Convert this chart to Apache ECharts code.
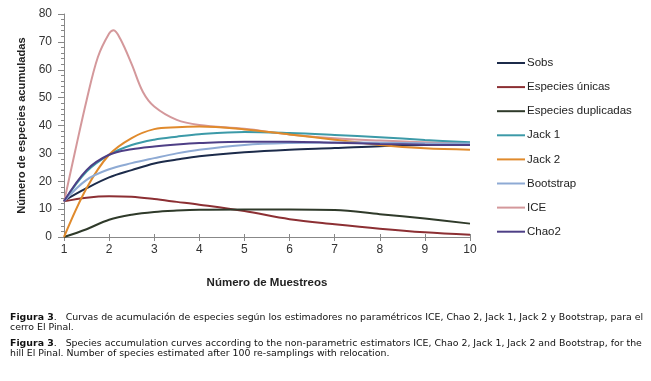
<!DOCTYPE html>
<html>
<head>
<meta charset="utf-8">
<script src="https://cdn.jsdelivr.net/npm/echarts@6/dist/echarts.min.js"></script>
<style>
html,body{margin:0;padding:0;background:#fff;}
#c{width:651px;height:381px;}
</style>
</head>
<body>
<div id="c"></div>
<script>
// ---- data ----
const xs = [1, 1.5, 2, 2.5, 3, 3.5, 4, 5, 6, 7, 8, 9, 10];
const sobs = [13, 17.5, 21.4, 24, 26.4, 27.8, 29, 30.4, 31.3, 31.9, 32.6, 33, 33.2];
const unicas = [12.8, 14.1, 14.6, 14.4, 13.6, 12.6, 11.6, 9.3, 6.4, 4.6, 3, 1.7, 0.8];
const duplicadas = [0, 2.8, 6.2, 8, 9, 9.5, 9.8, 9.9, 9.9, 9.7, 8.2, 6.6, 4.8];
const jack1 = [12.8, 23.5, 29.5, 33, 34.9, 36, 36.9, 37.7, 37.3, 36.6, 35.8, 34.8, 34];
const jack2 = [0, 17.5, 29.5, 35.5, 38.7, 39.4, 39.6, 38.6, 36.8, 34.9, 33, 31.8, 31.3];
const bootstrap = [12.8, 20.5, 24.3, 26.5, 28.3, 30, 31.3, 33, 33.7, 33.9, 33.8, 33.6, 33.5];
const chao2 = [12.8, 24, 29.5, 31.5, 32.5, 33.2, 33.7, 34.2, 34.2, 33.8, 33.4, 33.1, 33];
const iceX = [1, 1.25, 1.5, 1.75, 2, 2.1, 2.25, 2.5, 2.75, 3, 3.5, 4, 5, 6, 7, 8, 9, 10];
const ice = [12.5, 31, 49, 64.5, 73, 74.2, 71, 62, 52, 46.8, 42, 40.2, 38.8, 36.8, 35.4, 34.6, 34, 33.7];
const xTicks = [1, 2, 3, 4, 5, 6, 7, 8, 9, 10];
const names = ['Sobs', 'Especies únicas', 'Especies duplicadas', 'Jack 1', 'Jack 2', 'Bootstrap', 'ICE', 'Chao2'];
const colors = ['#1c2b4a', '#8c2f33', '#2f3a2a', '#3c9aa8', '#e08a2c', '#8eaad4', '#d4989b', '#4e3f86'];
const captionES = 'Curvas de acumulación de especies según los estimadores no paramétricos ICE, Chao 2, Jack 1, Jack 2 y Bootstrap, para el';
const captionES2 = 'cerro El Pinal.';
const captionEN = 'Species accumulation curves according to the non-parametric estimators ICE, Chao 2, Jack 1, Jack 2 and Bootstrap, for the';
const captionEN2 = 'hill El Pinal. Number of species estimated after 100 re-samplings with relocation.';

const pair = (xa, ya) => xa.map((x, i) => [x, ya[i]]);
const seriesData = [pair(xs, sobs), pair(xs, unicas), pair(xs, duplicadas), pair(xs, jack1), pair(xs, jack2), pair(xs, bootstrap), pair(iceX, ice), pair(xs, chao2)];

const narrow = "'Liberation Sans Narrow', 'Liberation Sans', Arial, sans-serif";
const capFont = "'DejaVu Sans', 'Liberation Sans', sans-serif";
const capSize = 9.4;
const capRich = { b: { fontFamily: capFont, fontSize: capSize, fontWeight: 'bold', fill: '#111' }, n: { fontFamily: capFont, fontSize: capSize, fill: '#111' } };

const chart = echarts.init(document.getElementById('c'), null, {renderer: 'canvas'});
const option = {
  animation: false,
  backgroundColor: '#fff',
  grid: { left: 64, right: 181, top: 14, bottom: 144, containLabel: false },
  legend: {
    orient: 'vertical', left: 497, top: 56, padding: 0,
    itemWidth: 28, itemHeight: 14, itemGap: 10.1,
    icon: 'path://M0,6 L28,6 L28,8 L0,8 Z',
    textStyle: { fontFamily: narrow, fontSize: 11.5, color: '#222', height: 14, lineHeight: 14, padding: [0, 0, 0, -3] },
    data: names
  },
  xAxis: [{
    type: 'value', min: 1, max: 10, interval: 1,
    name: 'Número de Muestreos', nameLocation: 'middle', nameGap: 40,
    nameTextStyle: { fontFamily: narrow, fontSize: 11.5, fontWeight: 'bold', color: '#222' },
    axisLine: { lineStyle: { color: '#888', width: 1 } },
    axisTick: { show: true, length: 4, lineStyle: { color: '#888' } },
    axisLabel: { fontFamily: narrow, fontSize: 12, color: '#333', margin: 7, customValues: xTicks },
    splitLine: { show: false }
  }, {
    type: 'value', min: 1, max: 10, interval: 1, position: 'bottom',
    axisLine: { show: false },
    axisTick: { show: true, inside: true, length: 3, lineStyle: { color: '#888' } },
    axisLabel: { show: false }, splitLine: { show: false }
  }],
  yAxis: {
    type: 'value', min: 0, max: 80, interval: 10,
    name: 'Número de especies acumuladas', nameLocation: 'middle', nameGap: 35,
    nameTextStyle: { fontFamily: narrow, fontSize: 11.2, fontWeight: 'bold', color: '#222' },
    axisLine: { show: true, lineStyle: { color: '#888', width: 1 } },
    axisTick: { show: true, length: 6, lineStyle: { color: '#888' } },
    minorTick: { show: true, splitNumber: 5, length: 3, lineStyle: { color: '#888' } },
    axisLabel: { fontFamily: narrow, fontSize: 12, color: '#333', margin: 12 },
    splitLine: { show: false }
  },
  series: names.map((n, i) => ({
    name: n, type: 'line', data: seriesData[i], smooth: 0.35,
    showSymbol: false, symbol: 'none',
    lineStyle: { width: 2, color: colors[i] }, itemStyle: { color: colors[i] },
    z: i === 6 ? 1 : 2
  })),
  graphic: [
    { type: 'text', left: 10, top: 313, style: { text: '{b|Figura 3}{n|.   ' + captionES + '}', rich: capRich } },
    { type: 'text', left: 10, top: 323.5, style: { text: captionES2, font: capSize + 'px ' + capFont, fill: '#111' } },
    { type: 'text', left: 10, top: 339, style: { text: '{b|Figura 3}{n|.   ' + captionEN + '}', rich: capRich } },
    { type: 'text', left: 10, top: 349.5, style: { text: captionEN2, font: capSize + 'px ' + capFont, fill: '#111' } }
  ]
};
chart.setOption(option);
</script>
</body>
</html>
